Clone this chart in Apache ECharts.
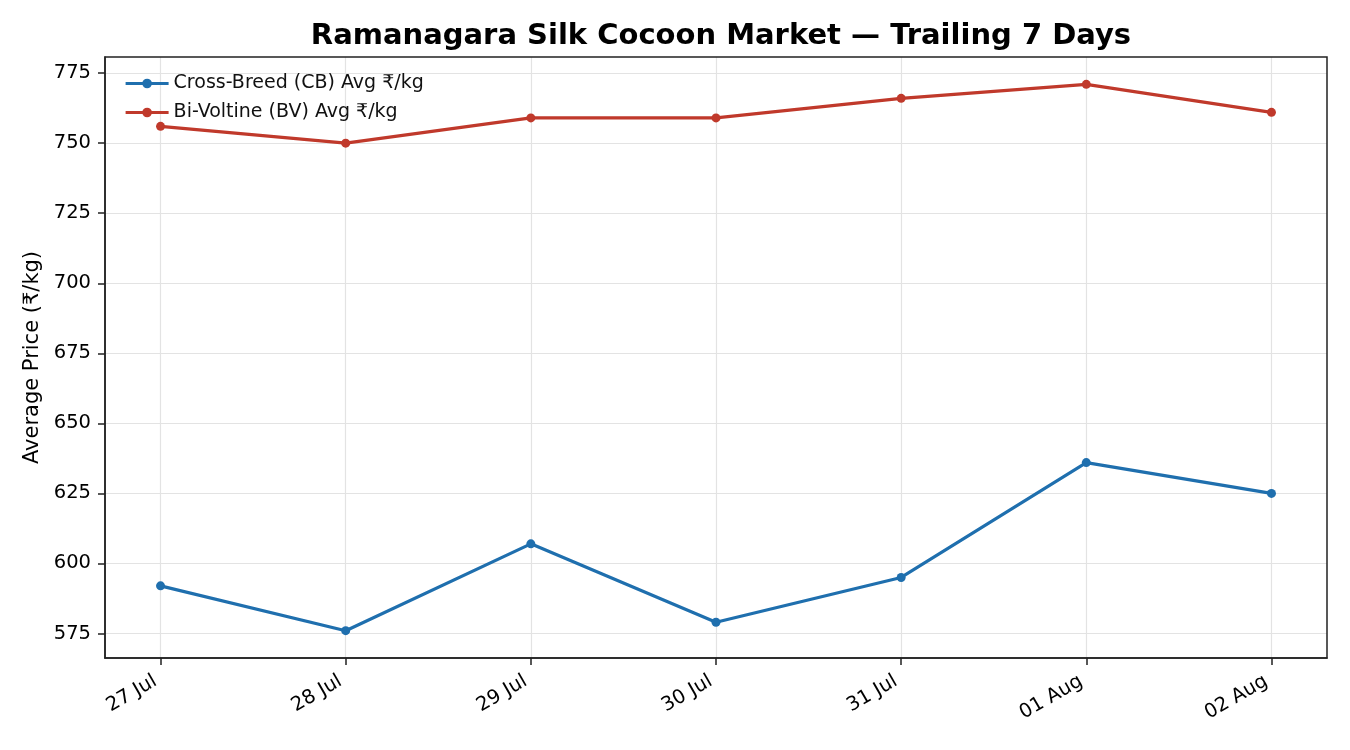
<!DOCTYPE html>
<html>
<head>
<meta charset="utf-8">
<script src="https://cdn.jsdelivr.net/npm/echarts@6/dist/echarts.min.js"></script>
<style>
  html, body { margin: 0; padding: 0; background: #fff; }
  #chart { width: 1350px; height: 750px; }
</style>
</head>
<body>
<div id="chart"></div>
<script>
var days = ['27 Jul', '28 Jul', '29 Jul', '30 Jul', '31 Jul', '01 Aug', '02 Aug'];
var cbPrice = [592, 576, 607, 579, 595, 636, 625];
var bvPrice = [756, 750, 759, 759, 766, 771, 761];
var yTicks = [575, 600, 625, 650, 675, 700, 725, 750, 775];

var chart = echarts.init(document.getElementById('chart'));

function pairs(vals) {
    return vals.map(function (v, i) { return [i, v]; });
}
var dayIdx = days.map(function (d, i) { return i; });

var font = 'DejaVu Sans';
var option = {
    animation: false,
    textStyle: { fontFamily: font },
    title: {
        text: 'Ramanagara Silk Cocoon Market — Trailing 7 Days',
        left: 716,
        textAlign: 'center',
        top: 17,
        textStyle: { fontFamily: font, fontSize: 29, fontWeight: 'bold', color: '#000' }
    },
    legend: {
        left: 119,
        top: 69,
        orient: 'vertical',
        itemGap: 10,
        itemWidth: 43,
        itemHeight: 12,
        lineStyle: { width: 3.2 },
        textStyle: { fontFamily: font, fontSize: 19, color: '#111' },
        data: ['Cross-Breed (CB) Avg ₹/kg', 'Bi-Voltine (BV) Avg ₹/kg']
    },
    grid: { left: 105, right: 23, top: 57, bottom: 92 },
    xAxis: {
        type: 'value',
        min: -0.3,
        max: 6.3,
        axisLine: { show: true, onZero: false, lineStyle: { color: '#222', width: 1.5 } },
        axisTick: { show: true, length: 7, customValues: dayIdx, lineStyle: { color: '#222', width: 1.5 } },
        axisLabel: {
            customValues: dayIdx,
            rotate: 30,
            fontSize: 19.5,
            color: '#000',
            margin: 19,
            padding: [0, 6, 0, 0],
            formatter: function (v) { return days[Math.round(v)]; }
        },
        splitLine: { show: true, lineStyle: { color: '#e3e3e3', width: 1.2 } }
    },
    yAxis: {
        type: 'value',
        min: 566.25,
        max: 780.75,
        name: 'Average Price (₹/kg)',
        nameLocation: 'middle',
        nameGap: 62,
        nameTextStyle: { fontFamily: font, fontSize: 21, color: '#000' },
        axisLine: { show: true, onZero: false, lineStyle: { color: '#222', width: 1.5 } },
        axisTick: { show: true, length: 7, customValues: yTicks, lineStyle: { color: '#222', width: 1.5 } },
        axisLabel: { customValues: yTicks, fontSize: 19.5, color: '#000', margin: 14 },
        splitLine: { show: true, lineStyle: { color: '#e3e3e3', width: 1.2 } }
    },
    series: [
        {
            name: 'Cross-Breed (CB) Avg ₹/kg',
            type: 'line',
            data: pairs(cbPrice),
            symbol: 'circle',
            symbolSize: 9,
            color: '#1f6fae',
            lineStyle: { width: 3.2 }
        },
        {
            name: 'Bi-Voltine (BV) Avg ₹/kg',
            type: 'line',
            data: pairs(bvPrice),
            symbol: 'circle',
            symbolSize: 9,
            color: '#c0392b',
            lineStyle: { width: 3.2 }
        }
    ],
    graphic: [{
        type: 'rect',
        shape: { x: 105, y: 57, width: 1222, height: 601 },
        style: { fill: 'none', stroke: '#222', lineWidth: 1.5 },
        silent: true,
        z: 10
    }]
};
chart.setOption(option);
</script>
</body>
</html>
